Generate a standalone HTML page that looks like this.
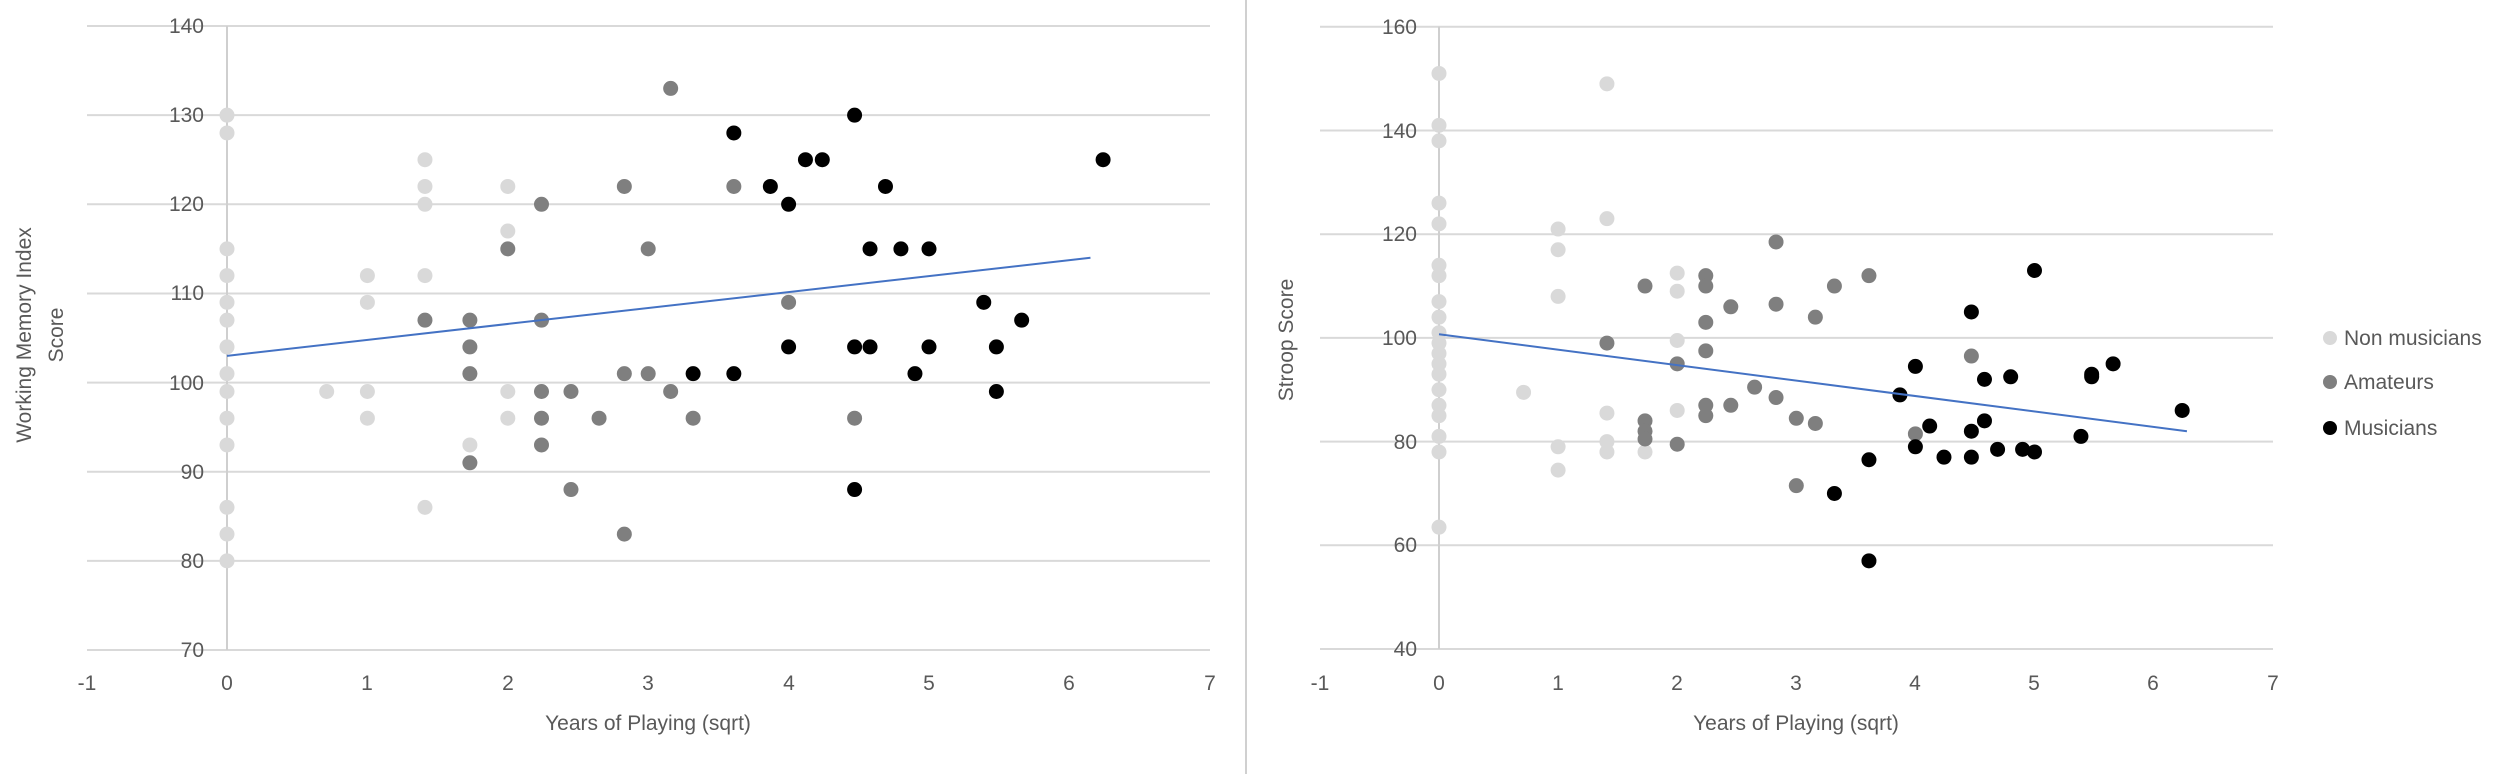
<!DOCTYPE html>
<html><head><meta charset="utf-8"><style>
html,body{margin:0;padding:0;background:#fff;}
svg{display:block;font-family:"Liberation Sans",sans-serif;}
</style></head><body>
<svg id="s" width="2500" height="774" viewBox="0 0 2500 774" xmlns="http://www.w3.org/2000/svg">
<rect width="2500" height="774" fill="#fff"/>
<line x1="1246" y1="0" x2="1246" y2="774" stroke="#d0d0d0" stroke-width="2"/>
<g id="g" stroke="#d9d9d9" stroke-width="2"></g>
<g fill="#595959" font-size="21" text-anchor="end">
<text x="204" y="33">140</text><text x="204" y="122">130</text><text x="204" y="211">120</text><text x="204" y="300">110</text><text x="204" y="390">100</text><text x="204" y="479">90</text><text x="204" y="568">80</text><text x="204" y="657">70</text>
<text x="1417" y="34">160</text><text x="1417" y="138">140</text><text x="1417" y="241">120</text><text x="1417" y="345">100</text><text x="1417" y="449">80</text><text x="1417" y="552">60</text><text x="1417" y="656">40</text>
</g>
<g fill="#595959" font-size="21" text-anchor="middle">
<text x="87" y="690">-1</text><text x="227" y="690">0</text><text x="367" y="690">1</text><text x="508" y="690">2</text><text x="648" y="690">3</text><text x="789" y="690">4</text><text x="929" y="690">5</text><text x="1069" y="690">6</text><text x="1210" y="690">7</text>
<text x="1320" y="690">-1</text><text x="1439" y="690">0</text><text x="1558" y="690">1</text><text x="1677" y="690">2</text><text x="1796" y="690">3</text><text x="1915" y="690">4</text><text x="2034" y="690">5</text><text x="2153" y="690">6</text><text x="2273" y="690">7</text>
<text x="648" y="730">Years of Playing (sqrt)</text>
<text x="1796" y="730">Years of Playing (sqrt)</text>
<text transform="translate(31,335) rotate(-90)">Working Memory Index</text>
<text transform="translate(63,335) rotate(-90)">Score</text>
<text transform="translate(1293,340) rotate(-90)">Stroop Score</text>
</g>
<g fill="#595959" font-size="21">
<circle cx="2330" cy="338" r="7" fill="#d9d9d9"/><text x="2344" y="345">Non musicians</text>
<circle cx="2330" cy="382" r="7" fill="#7f7f7f"/><text x="2344" y="389">Amateurs</text>
<circle cx="2330" cy="428" r="7" fill="#000"/><text x="2344" y="435">Musicians</text>
</g>
<g id="d"></g>
</svg>
<script>
var NS="http://www.w3.org/2000/svg";
function el(p,t,a){var e=document.createElementNS(NS,t);for(var k in a)e.setAttribute(k,a[k]);p.appendChild(e);return e;}
var g=document.getElementById('g'),d=document.getElementById('d');
// left
var L={x0:227,xs:140.4,y:function(v){return 650-(v-70)*8.914;}};
var R={x0:1439,xs:119.1,y:function(v){return 649-(v-40)*5.185;}};
for(var v=70;v<=140;v+=10)el(g,'line',{x1:87,x2:1210,y1:L.y(v),y2:L.y(v)});
for(var v=40;v<=160;v+=20)el(g,'line',{x1:1320,x2:2273,y1:R.y(v),y2:R.y(v)});
el(g,'line',{x1:227,x2:227,y1:L.y(140),y2:L.y(70),stroke:'#cfcfcf'});
el(g,'line',{x1:1439,x2:1439,y1:R.y(160),y2:R.y(40),stroke:'#cfcfcf'});
function pts(C,col,list){list.forEach(function(p){var x=p[0];for(var i=1;i<p.length;i++)el(d,'circle',{cx:C.x0+x*C.xs,cy:C.y(p[i]),r:7.5,fill:col});});}
var LG='#d9d9d9',AG='#7f7f7f',MG='#000';
pts(L,LG,[[0,130,128,115,112,109,107,104,101,99,96,93,86,83,80],[0.71,99],[1,112,109,99,96],[1.41,125,122,120,112,86],[2,122,117,99,96],[1.73,93]]);
pts(L,AG,[[1.41,107],[1.73,107,104,101,91],[2,115],[2.24,120,107,99,96,93],[2.45,99,88],[2.65,96],[2.83,122,101,83],[3,115,101],[3.16,133,99],[3.32,96],[3.61,122],[4,109],[4.47,96]]);
pts(L,MG,[[3.32,101],[3.61,128,101],[3.87,122],[4,120,104],[4.12,125],[4.24,125],[4.47,130,104,88],[4.58,115,104],[4.69,122],[4.8,115],[4.9,101],[5,115,104],[5.39,109],[5.48,104,99],[5.66,107],[6.24,125]]);
pts(R,LG,[[0,151,141,138,126,122,114,112,107,104,101,99,97,95,93,90,87,85,81,78,63.5],[0.71,89.5],[1,121,117,108,79,74.5],[1.41,149,123,85.5,80,78],[1.73,78],[2,112.5,109,99.5,86]]);
pts(R,AG,[[1.41,99],[1.73,110,84,82,80.5],[2,95,79.5],[2.24,112,110,103,97.5,87,85],[2.45,106,87],[2.65,90.5],[2.83,118.5,106.5,88.5],[3,84.5,71.5],[3.16,104,83.5],[3.32,110],[3.61,112],[4,81.5],[4.47,96.5]]);
pts(R,MG,[[3.32,70],[3.61,76.5,57],[3.87,89],[4,94.5,79],[4.12,83],[4.24,77],[4.47,105,82,77],[4.58,92,84],[4.69,78.5],[4.8,92.5],[4.9,78.5],[5,113,78],[5.39,81],[5.48,93,92.5],[5.66,95],[6.24,86]]);
el(d,'line',{x1:227,y1:L.y(103),x2:227+6.15*140.4,y2:L.y(114),stroke:'#4472c4','stroke-width':2});
el(d,'line',{x1:1439,y1:R.y(100.7),x2:1439+6.28*119.1,y2:R.y(82),stroke:'#4472c4','stroke-width':2});
</script>
</body></html>
